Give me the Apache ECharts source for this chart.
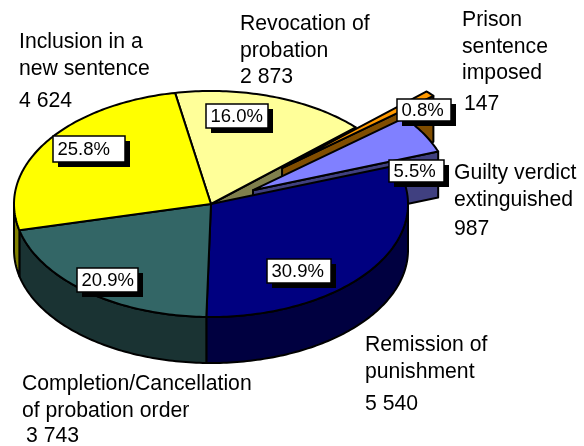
<!DOCTYPE html>
<html>
<head>
<meta charset="utf-8">
<title>Pie</title>
<style>
	html, body { margin: 0; padding: 0; background: #fff; }
	#main { width: 584px; height: 446px; }
</style>
<script src="https://cdn.jsdelivr.net/npm/echarts@6/dist/echarts.min.js"></script>
</head>
<body>
<div id="main"></div>
<script>
// clockwise from the top of the pie, this is also the draw order
const categories = [
	"Revocation of\nprobation",
	"Prison\nsentence\nimposed",
	"Guilty verdict\nextinguished",
	"Remission of\npunishment",
	"Completion/Cancellation\nof probation order",
	"Inclusion in a\nnew sentence",
];
const values = [2873, 147, 987, 5540, 3743, 4624];

const topColors = ["#ffff99", "#ff9900", "#8080ff", "#000080", "#336666", "#ffff00"];
const wallColors = ["#80804d", "#804d00", "#404080", "#000040", "#1a3333", "#808000"];
const explode = [0, 0.48, 0.246, 0, 0, 0];

// pie geometry
const cx = 211, cy = 204, rx = 197, ry = 113, depth = 46;
const startDeg = -10.5;

// where the texts go: [x, first baseline] for the name and the value, [x, y, w, h] for the percent box
const namePos = [[240, 30], [462, 26], [454, 179], [365, 351], [22, 390], [19, 48]];
const valuePos = [[240, 83], [464, 110], [454, 235], [365, 410], [26, 442], [19, 107]];
const boxPos = [
	[206, 104, 62, 24],
	[397, 99, 54, 22],
	[389, 160, 55, 22],
	[267, 259, 64, 24],
	[77, 268, 61, 24],
	[53, 136, 72, 26],
];
const lineGap = 26.7;
const midOffset = 6; // baseline to the middle of a line

const total = values.reduce((a, b) => a + b, 0);
const angles = [];
let acc = startDeg;
values.forEach((v) => {
	const sweep = (v / total) * 360;
	angles.push([acc, acc + sweep]);
	acc += sweep;
});

function pt(deg, ox, oy, down) {
	const t = (deg * Math.PI) / 180;
	return [cx + ox + rx * Math.sin(t), cy + oy - ry * Math.cos(t) + (down || 0)];
}

function arc(from, to, ox, oy, down) {
	const out = [];
	const n = Math.max(2, Math.ceil(Math.abs(to - from)));
	for (let i = 0; i <= n; i++) {
		out.push(pt(from + ((to - from) * i) / n, ox, oy, down));
	}
	return out;
}

function face(points, fill) {
	return {
		type: "polygon",
		shape: { points: points },
		style: { fill: fill, stroke: "#000", lineWidth: 2, lineJoin: "round" },
	};
}

function renderSlice(params) {
	const i = params.dataIndex;
	const a = angles[i][0];
	const b = angles[i][1];
	const mid = (((a + b) / 2) * Math.PI) / 180;
	const ox = explode[i] * rx * Math.sin(mid);
	const oy = -explode[i] * ry * Math.cos(mid);
	const apex = [cx + ox, cy + oy];
	const children = [];

	// cut face on the clockwise edge, only the ones turned to the viewer
	if (Math.sin((b * Math.PI) / 180) > 0) {
		const outer = pt(b, ox, oy);
		children.push(
			face(
				[apex, outer, [outer[0], outer[1] + depth], [apex[0], apex[1] + depth]],
				wallColors[i]
			)
		);
	}
	// outer wall, front half only
	const w0 = Math.max(a, 90);
	const w1 = Math.min(b, 270);
	if (w1 > w0) {
		children.push(face(arc(w0, w1, ox, oy).concat(arc(w1, w0, ox, oy, depth)), wallColors[i]));
	}
	children.push(face([apex].concat(arc(a, b, ox, oy)), topColors[i]));
	return { type: "group", children: children };
}

const font = '"Liberation Sans", Arial, sans-serif';
const graphics = [];
categories.forEach((name, i) => {
	name.split("\n").forEach((line, k) => {
		graphics.push({
			type: "text",
			x: namePos[i][0],
			y: namePos[i][1] + k * lineGap - midOffset,
			z: 10,
			style: { text: line, font: "21.2px " + font, fill: "#000", verticalAlign: "middle" },
		});
	});
	graphics.push({
		type: "text",
		x: valuePos[i][0],
		y: valuePos[i][1] - midOffset,
		z: 10,
		style: {
			text: String(values[i]).replace(/\B(?=(\d{3})+$)/g, " "),
			font: "21.2px " + font,
			fill: "#000",
			verticalAlign: "middle",
		},
	});
	const [x, y, w, h] = boxPos[i];
	graphics.push({ type: "rect", x: x + 5, y: y + 5, z: 11, shape: { width: w, height: h }, style: { fill: "#000" } });
	graphics.push({
		type: "rect",
		x: x,
		y: y,
		z: 12,
		shape: { width: w, height: h },
		style: { fill: "#fff", stroke: "#000", lineWidth: 1.5 },
	});
	graphics.push({
		type: "text",
		x: x + 4.5,
		y: y + h / 2 + 0.5,
		z: 13,
		style: {
			text: ((values[i] / total) * 100).toFixed(1) + "%",
			font: "18.5px " + font,
			fill: "#000",
			verticalAlign: "middle",
		},
	});
});

const myChart = echarts.init(document.getElementById("main"));
myChart.setOption({
	animation: false,
	backgroundColor: "#fff",
	graphic: graphics,
	series: [
		{
			type: "custom",
			coordinateSystem: "none",
			data: values,
			renderItem: renderSlice,
		},
	],
});
</script>
</body>
</html>
